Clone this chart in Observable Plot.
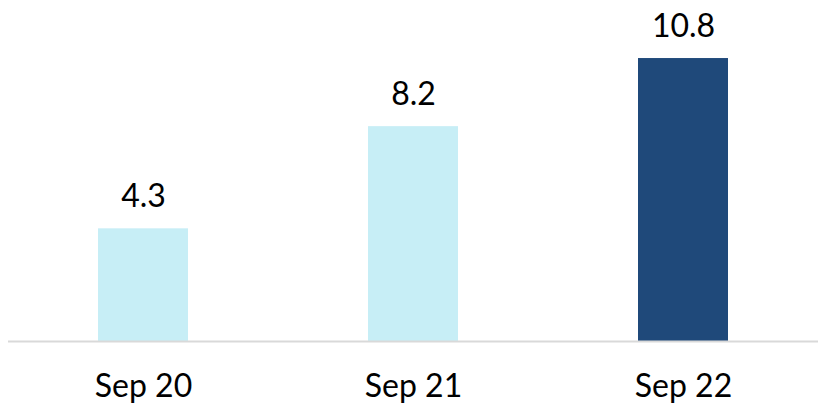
<!DOCTYPE html>
<html>
<head>
<meta charset="utf-8">
<script src="https://cdn.jsdelivr.net/npm/d3@7"></script>
<script src="https://cdn.jsdelivr.net/npm/@observablehq/plot@0.6"></script>
<style>
  html, body { margin: 0; padding: 0; background: #fff; }
  #chart svg { display: block; }
</style>
</head>
<body>
<div id="chart"></div>
<script>
const categories = ["Sep 20", "Sep 21", "Sep 22"];
const values = [4.3, 8.2, 10.8];
const colors = ["#c7eef6", "#c7eef6", "#1f497a"];

const data = categories.map((c, i) => ({cat: c, value: values[i], color: colors[i]}));

const chart = Plot.plot({
  width: 828,
  height: 406,
  marginLeft: 8,
  marginRight: 10,
  marginTop: 0,
  marginBottom: 65,
  style: {fontFamily: "Lato, 'Open Sans', sans-serif", background: "#fff", color: "#000"},
  x: {domain: categories, paddingInner: 0.667, paddingOuter: 0.333, label: null},
  y: {domain: [0, 13.015], axis: null},
  marks: [
    Plot.barY(data, {x: "cat", y: "value", fill: "color"}),
    Plot.ruleY([0], {stroke: "#d9d9d9", strokeWidth: 2}),
    Plot.text(data, {x: "cat", y: "value", text: d => d.value.toFixed(1), lineAnchor: "bottom", dy: -22, fontSize: 32, fill: "#000"}),
    Plot.axisX({tickSize: 0, tickPadding: 33, fontSize: 32, fill: "#000", label: null})
  ]
});
document.getElementById("chart").appendChild(chart);
</script>
</body>
</html>
